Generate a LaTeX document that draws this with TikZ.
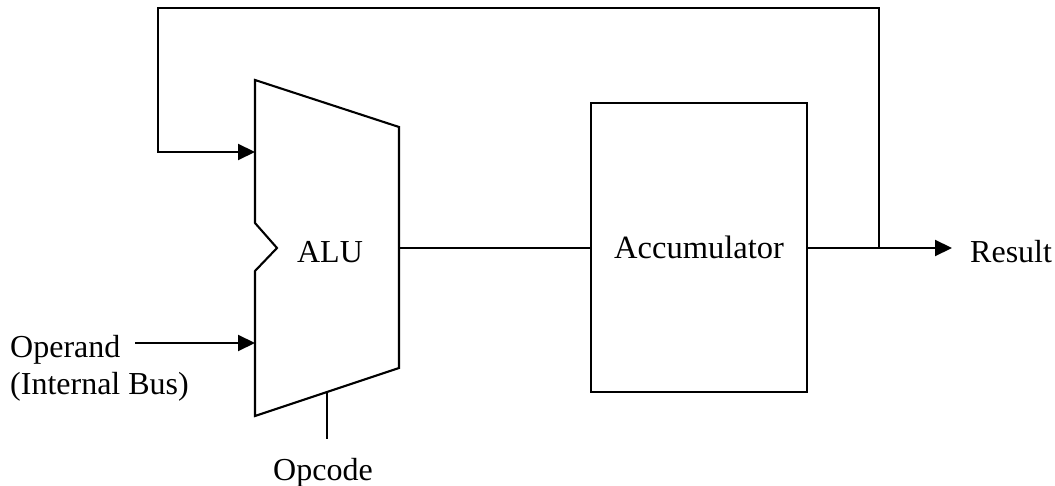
\documentclass[tikz,border=0pt]{standalone}
\usepackage{fontspec}
\setmainfont{Liberation Serif}
\usetikzlibrary{arrows.meta}
\begin{document}
\begin{tikzpicture}[x=1pt,y=-1pt,
  wire/.style={line width=2.1pt},
  thinwire/.style={line width=1.4pt},
  arr/.style={wire,-{Triangle[length=17pt,width=16pt]}},
  lbl/.style={inner sep=0pt,font=\fontsize{32}{37}\selectfont},
  accbox/.style={draw,line width=2.1pt,minimum width=216pt,minimum height=289pt,inner sep=0pt,font=\fontsize{32.5}{37}\selectfont}]
\useasboundingbox (0,0) rectangle (1055,486);
% ALU shape
\draw[wire,line join=miter] (255,80) coordinate (alutl) -- (399,127) -- (399,368) -- (255,416) -- (255,271) -- (277,248) -- (255,223) -- cycle;
\coordinate (alufb) at (255,152);
\coordinate (aluin) at (255,343);
\coordinate (aluout) at (399,248);
\coordinate (aluop) at (327,392);
\node[lbl,anchor=base] (alu) at (330,263) {ALU};
% Accumulator
\node[accbox] (acc) at (699,247.5) {Accumulator};
% ALU -> Accumulator
\draw[thinwire] (aluout) -- (acc.west |- aluout);
% Result
\coordinate (junc) at (879,248);
\coordinate (restip) at (952,248);
\node[lbl,anchor=base west] (res) at (970,263) {Result};
\draw[arr] (acc.east |- junc) -- (restip);
% Feedback
\coordinate (fbtl) at (158,8);
\draw[arr] (junc) |- (fbtl) |- (alufb);
% Operand
\node[lbl,anchor=base west] (opd) at (10,357) {Operand};
\node[lbl,anchor=base west] (bus) at (10,394) {(Internal Bus)};
\coordinate (opstart) at (135,343);
\draw[arr] (opstart) -- (aluin);
% Opcode
\coordinate (opend) at (327,439);
\draw[thinwire] (aluop) -- (opend);
\node[lbl,anchor=base] (opc) at (323,480) {Opcode};
\end{tikzpicture}
\end{document}
